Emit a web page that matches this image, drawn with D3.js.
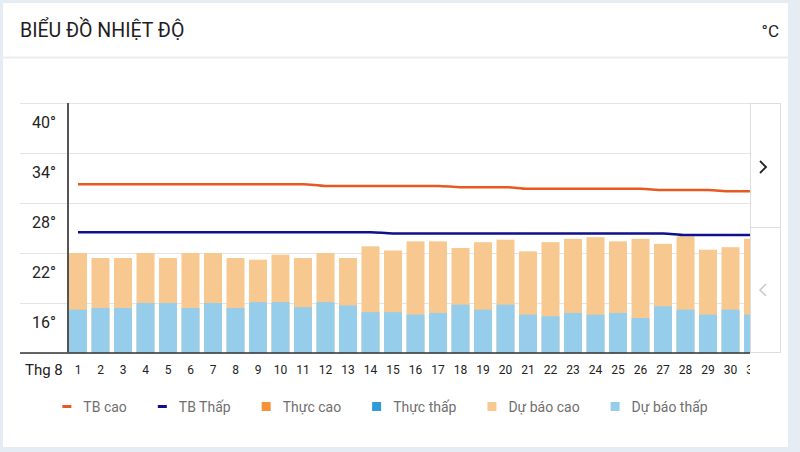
<!DOCTYPE html>
<html>
<head>
<meta charset="utf-8">
<script src="https://cdn.jsdelivr.net/npm/d3@7"></script>
<style>
body { margin: 0; background: #e5ecf3; }
svg { display: block; }
</style>
</head>
<body>
<div id="chart"></div>
<script>
// data (August, daily)
var days = ["1","2","3","4","5","6","7","8","9","10","11","12","13","14","15","16",
            "17","18","19","20","21","22","23","24","25","26","27","28","29","30","31"]

var forecastHigh = [22.0,21.4,21.4,22.0,21.4,22.0,22.0,21.4,21.2,21.8,21.4,22.0,21.4,22.8,22.3,23.4,
                    23.4,22.6,23.3,23.6,22.2,23.3,23.7,23.9,23.4,23.7,23.1,24.0,22.4,22.7,23.7]
var forecastLow  = [15.2,15.4,15.4,16.0,16.0,15.4,16.0,15.4,16.1,16.1,15.5,16.1,15.7,14.9,14.9,14.6,
                    14.8,15.8,15.2,15.8,14.6,14.4,14.8,14.6,14.8,14.2,15.6,15.2,14.6,15.2,14.6]
var avgHigh = [30.25,30.25,30.25,30.25,30.25,30.25,30.25,30.25,30.25,30.25,30.25,30.05,30.05,30.05,30.05,30.05,
               30.05,29.9,29.9,29.9,29.7,29.7,29.7,29.7,29.7,29.7,29.55,29.55,29.55,29.4,29.4]
var avgLow  = [24.5,24.5,24.5,24.5,24.5,24.5,24.5,24.5,24.5,24.5,24.5,24.5,24.5,24.5,24.35,24.35,
               24.35,24.35,24.35,24.35,24.35,24.35,24.35,24.35,24.35,24.35,24.35,24.15,24.15,24.15,24.15]

var yTicks = [16, 22, 28, 34, 40]
var monthLabel = "Thg 8"

var legendItems = [
   {name: "TB cao",      color: "#e8591f", kind: "line"},
   {name: "TB Thấp",     color: "#10108a", kind: "line"},
   {name: "Thực cao",    color: "#f79239", kind: "box"},
   {name: "Thực thấp",   color: "#2f9bd8", kind: "box"},
   {name: "Dự báo cao",  color: "#f8c891", kind: "box"},
   {name: "Dự báo thấp", color: "#96cdea", kind: "box"}
]

// global layout
var svgWidth  = 800
var svgHeight = 452
var plotLeft = 68, plotRight = 750, plotTop = 103, plotBottom = 353

var svg = d3.select("#chart")
.append("svg")
.attr("width", svgWidth)
.attr("height", svgHeight)
.style("font-family", "Roboto, sans-serif")

// card
svg.append("rect")
.attr("x", 3).attr("y", 3)
.attr("width", 785).attr("height", 444)
.attr("fill", "white")

// header
svg.append("text")
.attr("x", 20).attr("y", 37)
.attr("font-size", 19.5)
.attr("fill", "#1e1e1e")
.text("BIỂU ĐỒ NHIỆT ĐỘ")

svg.append("text")
.attr("x", 779).attr("y", 37)
.attr("text-anchor", "end")
.attr("font-size", 17)
.attr("fill", "#1e1e1e")
.text("°C")

svg.append("line")
.attr("x1", 3).attr("x2", 788)
.attr("y1", 57.5).attr("y2", 57.5)
.attr("stroke", "#e9edf1")
.attr("stroke-width", 2)

// scales
var y = d3.scaleLinear()
.domain([10, 40])
.range([plotBottom, plotTop])

var x = d3.scaleBand()
.domain(days)
.range([66.75, 66.75 + 31 * 22.5])
.paddingInner(0.2)
.paddingOuter(0.1)

// gridlines
svg.selectAll(".grid")
.data([10].concat(yTicks))
.enter()
.append("line")
.attr("x1", 20).attr("x2", plotRight)
.attr("y1", function(d){ return Math.round(y(d)) + 0.5 })
.attr("y2", function(d){ return Math.round(y(d)) + 0.5 })
.attr("stroke", "#e4e4e4")

// y labels sit below their gridline
svg.selectAll(".ylab")
.data(yTicks)
.enter()
.append("text")
.attr("x", 56)
.attr("y", function(d){ return y(d) + 19 })
.attr("dy", "0.35em")
.attr("text-anchor", "end")
.attr("font-size", 16)
.attr("fill", "#222")
.text(function(d){ return d + "°" })

// clipped scrolling area
svg.append("clipPath")
.attr("id", "clip")
.append("rect")
.attr("x", plotLeft).attr("y", 0)
.attr("width", plotRight - plotLeft).attr("height", svgHeight)

var plot = svg.append("g").attr("clip-path", "url(#clip)")

plot.selectAll(".hi")
.data(forecastHigh)
.enter()
.append("rect")
.attr("x", function(d, i){ return x(days[i]) })
.attr("width", x.bandwidth())
.attr("y", function(d){ return y(d) })
.attr("height", function(d){ return y(10) - y(d) })
.attr("fill", "#f8c891")

plot.selectAll(".lo")
.data(forecastLow)
.enter()
.append("rect")
.attr("x", function(d, i){ return x(days[i]) })
.attr("width", x.bandwidth())
.attr("y", function(d){ return y(d) })
.attr("height", function(d){ return y(10) - y(d) })
.attr("fill", "#96cdea")

var line = d3.line()
.x(function(d, i){ return x(days[i]) + x.bandwidth() / 2 })
.y(function(d){ return y(d) })
.curve(d3.curveMonotoneX)

plot.append("path")
.attr("d", line(avgHigh))
.attr("fill", "none")
.attr("stroke", "#e8591f")
.attr("stroke-width", 2.5)

plot.append("path")
.attr("d", line(avgLow))
.attr("fill", "none")
.attr("stroke", "#10108a")
.attr("stroke-width", 2.5)

// day labels
plot.selectAll(".xlab")
.data(days)
.enter()
.append("text")
.attr("x", function(d){ return x(d) + x.bandwidth() / 2 })
.attr("y", 370)
.attr("dy", "0.35em")
.attr("text-anchor", "middle")
.attr("font-size", 12)
.attr("fill", "#222")
.text(function(d){ return d })

svg.append("text")
.attr("x", 25).attr("y", 370)
.attr("dy", "0.35em")
.attr("font-size", 15)
.attr("fill", "#222")
.text(monthLabel)

// axes
svg.append("line")
.attr("x1", 20).attr("x2", plotRight)
.attr("y1", 353).attr("y2", 353)
.attr("stroke", "#333")
.attr("stroke-width", 1.5)

svg.append("line")
.attr("x1", 68).attr("x2", 68)
.attr("y1", plotTop).attr("y2", plotBottom)
.attr("stroke", "#555")
.attr("stroke-width", 2)

// right scroll panel
svg.append("rect")
.attr("x", 750.5).attr("y", 103.5)
.attr("width", 30).attr("height", 249)
.attr("fill", "white")
.attr("stroke", "#dedede")

svg.append("line")
.attr("x1", 750.5).attr("x2", 780.5)
.attr("y1", 227.5).attr("y2", 227.5)
.attr("stroke", "#dedede")

svg.append("path")
.attr("d", "M760,161L766,167L760,173")
.attr("fill", "none")
.attr("stroke", "#222")
.attr("stroke-width", 1.8)

svg.append("path")
.attr("d", "M766,284L760,290L766,296")
.attr("fill", "none")
.attr("stroke", "#c8c8c8")
.attr("stroke-width", 1.5)

// legend
var legend = svg.append("g")
var cursor = 0
legendItems.forEach(function(item) {
   var g = legend.append("g").attr("transform", "translate(" + cursor + ",0)")
   if (item.kind == "line") {
      g.append("rect").attr("x", 0).attr("y", 405).attr("width", 9).attr("height", 3).attr("fill", item.color)
   } else {
      g.append("rect").attr("x", 0).attr("y", 402).attr("width", 9).attr("height", 9).attr("fill", item.color)
   }
   var t = g.append("text")
   .attr("x", 21).attr("y", 407)
   .attr("dy", "0.35em")
   .attr("font-size", 14)
   .attr("fill", "#6f6f6f")
   .text(item.name)
   cursor += 21 + t.node().getComputedTextLength() + 31
})
var legendWidth = cursor - 31
legend.attr("transform", "translate(" + (385 - legendWidth / 2) + ",0)")
</script>
</body>
</html>
